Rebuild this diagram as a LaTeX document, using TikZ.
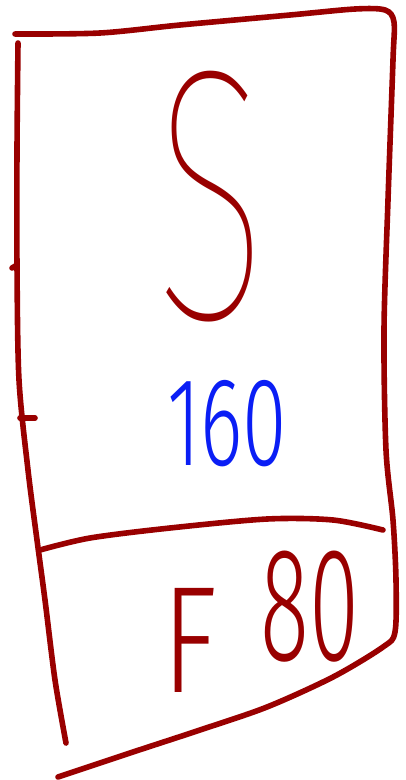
\documentclass[tikz,border=0pt]{standalone}
\usepackage{fontspec}
\IfFontExistsTF{Fira Sans ExtraLight}
  {\newfontfamily\handfont{Fira Sans ExtraLight}}
  {\newfontfamily\handfont{Liberation Sans}}
\IfFontExistsTF{Fira Sans Thin}
  {\newfontfamily\thinfont{Fira Sans Thin}}
  {\newfontfamily\thinfont{Fira Sans ExtraLight}}
\IfFontExistsTF{Fira Sans Light}
  {\newfontfamily\digitfont{Fira Sans Light}}
  {\newfontfamily\digitfont{Fira Sans ExtraLight}}
\definecolor{inkred}{RGB}{153,0,0}
\definecolor{inkblue}{RGB}{10,30,245}

\begin{document}
\begin{tikzpicture}[x=1pt, y=-1pt, line cap=round, line join=round,
  ink/.style={draw=inkred, line width=5.6pt},
  handtext/.style={inner sep=0pt}]

  % ── Canvas ───────────────────────────────────────────────────────────────────
  \fill[white] (0,0) rectangle (405,780);
  \useasboundingbox (0,0) rectangle (405,780);

  % ── Outline ──────────────────────────────────────────────────────────────────

  % Top, right and bottom edge
  \draw[ink] plot[smooth, tension=0.5] coordinates {
    (15,34) (100,33) (180,25) (290,15) (355,9) (385,10) (394,22) (393,60)
    (388,200) (384,330) (386,450) (393,520) (396,580) (395,632) (383,647)
    (333,677) (267,707) (200,730) (133,752) (58,777)};

  % Left edge
  \draw[ink] plot[smooth, tension=0.5] coordinates {
    (18,43) (17,150) (17,265) (19,380) (28,470) (37,540) (45,600) (55,680) (66,743)};

  % Ticks on the left edge
  \draw[ink] (17,265) -- (12,268);
  \draw[ink] (20,418) -- (35,418);

  % Divider
  \draw[ink] plot[smooth, tension=0.5] coordinates {
    (40,550) (90,538) (170,528) (267,519) (333,520) (383,530)};

  % ── Labels ───────────────────────────────────────────────────────────────────
  \node[handtext, text=inkred,
        font=\thinfont\addfontfeatures{FakeStretch=0.58}\fontsize{358}{358}\selectfont]
    (sign) at (211,197) {S};
  \node[handtext, text=inkblue,
        font=\digitfont\addfontfeatures{FakeStretch=0.64}\fontsize{126}{126}\selectfont]
    (size) at (227,424) {160};
  \node[handtext, text=inkred,
        font=\digitfont\addfontfeatures{FakeStretch=0.75}\fontsize{152}{152}\selectfont]
    (flabel) at (190,640) {F};
  \node[handtext, text=inkred,
        font=\digitfont\addfontfeatures{FakeStretch=0.56}\fontsize{162}{162}\selectfont]
    (fvalue) at (310,607) {80};

\end{tikzpicture}
\end{document}
